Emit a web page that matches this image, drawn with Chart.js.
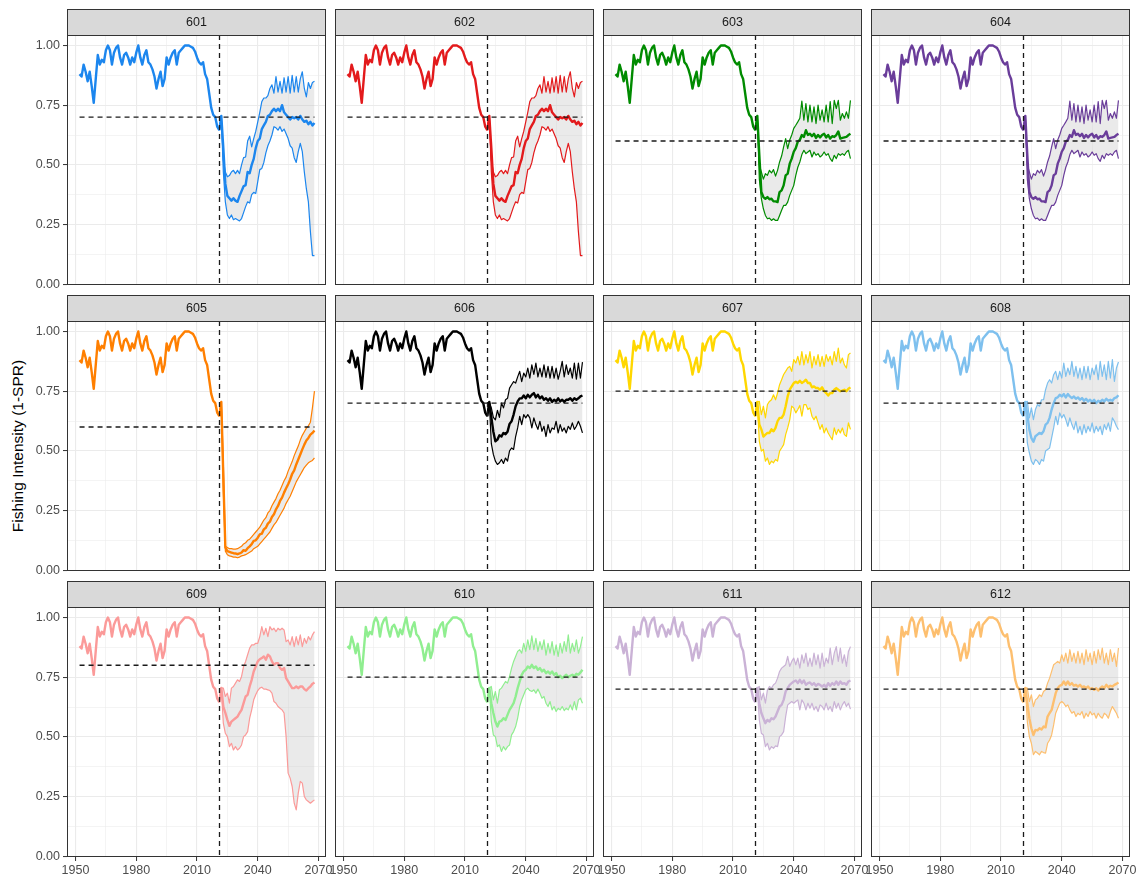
<!DOCTYPE html>
<html>
<head>
<meta charset="utf-8">
<title>Fishing Intensity (1-SPR)</title>
<script src="https://cdn.jsdelivr.net/npm/chart.js@4.4.1/dist/chart.umd.min.js"></script>
<style>
  html, body { margin: 0; padding: 0; background: #ffffff; }
  #wrap { position: relative; width: 1141px; height: 878px; overflow: hidden;
          font-family: "Liberation Sans", Arial, Helvetica, sans-serif; }
  .cell { position: absolute; }
  #ytitle { position: absolute; left: 18px; top: 446px; transform: translate(-50%, -50%) rotate(-90deg);
            font-size: 15.5px; color: #000; white-space: nowrap; }
</style>
</head>
<body>
<div id="wrap"><div id="ytitle">Fishing Intensity (1-SPR)</div></div>
<script>
// ---- data -------------------------------------------------------------
const FIRST_HIST_YEAR = 1952;   // historical series starts here
const FIRST_PROJ_YEAR = 2021;   // projection series start here
const CUTOFF_YEAR = 2021;       // vertical dashed marker
const TARGET_START = 1952;      // target line span
const TARGET_END = 2068;

const historical = [
  0.88, 0.87, 0.92, 0.89, 0.85, 0.89, 0.83, 0.76, 0.86, 0.96,
  0.92, 0.94, 0.93, 0.98, 1.00, 0.98, 0.92, 0.97, 0.99, 1.00,
  0.95, 0.92, 0.96, 0.97, 0.95, 0.92, 0.95, 0.93, 0.97, 1.00,
  0.95, 0.92, 0.96, 0.98, 0.93, 0.92, 0.90, 0.87, 0.82, 0.86,
  0.89, 0.83, 0.86, 0.95, 0.92, 0.95, 0.97, 0.98, 0.92, 0.97,
  0.98, 0.99, 1.00, 1.00, 1.00, 0.995, 0.99, 0.975, 0.95, 0.93,
  0.92, 0.93, 0.88, 0.86, 0.80, 0.74, 0.71, 0.70, 0.66, 0.645
];

// projections 2021-2068: median, lower and upper bounds
const med601 = [0.645, 0.705,
  0.57, 0.42, 0.37, 0.36, 0.35, 0.36, 0.35, 0.345, 0.37,
  0.39, 0.41, 0.415, 0.47, 0.465, 0.50, 0.525, 0.57, 0.60, 0.61,
  0.65, 0.665, 0.68, 0.705, 0.71, 0.725, 0.735, 0.725, 0.735, 0.725,
  0.75, 0.72, 0.71, 0.70, 0.69, 0.70, 0.695, 0.70, 0.69, 0.705,
  0.69, 0.68, 0.685, 0.67, 0.68, 0.665, 0.675];
const hi601 = [0.645, 0.705,
  0.52, 0.47, 0.45, 0.455, 0.47, 0.477, 0.463, 0.477, 0.463, 0.50,
  0.53, 0.533, 0.60, 0.62, 0.575, 0.61, 0.64, 0.68, 0.72, 0.765,
  0.78, 0.78, 0.79, 0.82, 0.835, 0.80, 0.87, 0.805, 0.85, 0.80,
  0.865, 0.805, 0.87, 0.80, 0.875, 0.805, 0.87, 0.805, 0.86, 0.89,
  0.82, 0.785, 0.845, 0.82, 0.845, 0.85];
const lo601 = [0.645, 0.705,
  0.47, 0.345, 0.29, 0.275, 0.29, 0.27, 0.275, 0.27, 0.265, 0.275,
  0.30, 0.325, 0.345, 0.34, 0.375, 0.385, 0.38, 0.43, 0.48, 0.485,
  0.51, 0.55, 0.58, 0.60, 0.625, 0.66, 0.655, 0.645, 0.66, 0.64,
  0.65, 0.63, 0.61, 0.58, 0.57, 0.53, 0.51, 0.555, 0.59, 0.555,
  0.47, 0.40, 0.345, 0.22, 0.12, 0.12];

const med603 = [0.645, 0.705,
  0.54, 0.386, 0.365, 0.358, 0.365, 0.356, 0.358, 0.347, 0.347, 0.344,
  0.386, 0.393, 0.414, 0.456, 0.463, 0.505, 0.526, 0.555, 0.57, 0.597,
  0.604, 0.625, 0.617, 0.645, 0.625, 0.63, 0.62, 0.63, 0.613, 0.625,
  0.615, 0.625, 0.63, 0.615, 0.625, 0.61, 0.62, 0.617, 0.625, 0.64,
  0.61, 0.613, 0.615, 0.617, 0.625, 0.63];
const hi603 = [0.645, 0.705,
  0.50, 0.47, 0.44, 0.463, 0.456, 0.477, 0.466, 0.48, 0.453, 0.477,
  0.512, 0.537, 0.575, 0.61, 0.568, 0.604, 0.625, 0.653, 0.666, 0.68,
  0.695, 0.767, 0.687, 0.757, 0.68, 0.75, 0.68, 0.743, 0.673, 0.75,
  0.687, 0.73, 0.68, 0.75, 0.68, 0.765, 0.673, 0.77, 0.736, 0.77,
  0.687, 0.715, 0.695, 0.722, 0.695, 0.77];
const lo603 = [0.645, 0.705,
  0.44, 0.358, 0.316, 0.288, 0.274, 0.277, 0.267, 0.274, 0.267, 0.267,
  0.288, 0.31, 0.33, 0.33, 0.344, 0.372, 0.393, 0.414, 0.456, 0.49,
  0.512, 0.543, 0.561, 0.547, 0.554, 0.561, 0.533, 0.554, 0.54, 0.547,
  0.533, 0.54, 0.554, 0.54, 0.547, 0.526, 0.515, 0.54, 0.526, 0.547,
  0.54, 0.547, 0.54, 0.554, 0.561, 0.526];

const med605 = [0.645, 0.705, 0.39,
  0.095, 0.08, 0.077, 0.074, 0.071, 0.07, 0.067, 0.07, 0.074, 0.084,
  0.081, 0.092, 0.10, 0.109, 0.123, 0.125, 0.136, 0.15, 0.153, 0.171,
  0.178, 0.195, 0.203, 0.223, 0.234, 0.255, 0.269, 0.29, 0.304, 0.325,
  0.343, 0.36, 0.38, 0.404, 0.418, 0.443, 0.464, 0.485, 0.506, 0.526,
  0.543, 0.554, 0.568, 0.575, 0.585];
const hi605 = [0.645, 0.705, 0.45,
  0.10, 0.095, 0.09, 0.09, 0.088, 0.088, 0.09, 0.095, 0.10, 0.11,
  0.115, 0.125, 0.13, 0.14, 0.15, 0.16, 0.17, 0.18, 0.195, 0.21,
  0.22, 0.24, 0.25, 0.27, 0.285, 0.30, 0.32, 0.335, 0.355, 0.375,
  0.39, 0.415, 0.435, 0.455, 0.48, 0.50, 0.52, 0.545, 0.565, 0.58,
  0.595, 0.605, 0.62, 0.68, 0.75];
const lo605 = [0.645, 0.705, 0.33,
  0.08, 0.065, 0.06, 0.058, 0.055, 0.055, 0.052, 0.055, 0.06, 0.062,
  0.065, 0.07, 0.075, 0.08, 0.09, 0.095, 0.10, 0.11, 0.12, 0.13,
  0.14, 0.15, 0.16, 0.175, 0.19, 0.20, 0.215, 0.23, 0.245, 0.26,
  0.28, 0.295, 0.31, 0.33, 0.35, 0.37, 0.385, 0.40, 0.415, 0.43,
  0.44, 0.45, 0.455, 0.46, 0.47];

const med606 = [0.645, 0.705,
  0.64, 0.58, 0.54, 0.547, 0.565, 0.56, 0.575, 0.57, 0.58, 0.613,
  0.624, 0.652, 0.687, 0.707, 0.72, 0.72, 0.732, 0.72, 0.735, 0.724,
  0.735, 0.742, 0.724, 0.735, 0.72, 0.728, 0.714, 0.72, 0.71, 0.72,
  0.705, 0.714, 0.707, 0.72, 0.707, 0.714, 0.705, 0.714, 0.714, 0.72,
  0.71, 0.72, 0.714, 0.72, 0.728, 0.732];
const hi606 = [0.645, 0.705,
  0.68, 0.64, 0.63, 0.67, 0.64, 0.70, 0.68, 0.714, 0.72, 0.763,
  0.777, 0.79, 0.784, 0.81, 0.833, 0.79, 0.826, 0.81, 0.847, 0.805,
  0.86, 0.82, 0.868, 0.81, 0.847, 0.81, 0.86, 0.808, 0.854, 0.805,
  0.854, 0.805, 0.847, 0.80, 0.833, 0.875, 0.81, 0.86, 0.82, 0.847,
  0.805, 0.868, 0.80, 0.868, 0.805, 0.872];
const lo606 = [0.645, 0.705,
  0.53, 0.485, 0.457, 0.443, 0.45, 0.464, 0.447, 0.47, 0.457, 0.50,
  0.512, 0.506, 0.56, 0.596, 0.645, 0.61, 0.652, 0.638, 0.652, 0.638,
  0.596, 0.638, 0.61, 0.59, 0.624, 0.582, 0.603, 0.56, 0.61, 0.575,
  0.596, 0.59, 0.624, 0.575, 0.61, 0.582, 0.596, 0.575, 0.603, 0.59,
  0.617, 0.59, 0.603, 0.624, 0.603, 0.575];

const med607 = [0.645, 0.705,
  0.61, 0.59, 0.56, 0.568, 0.575, 0.575, 0.59, 0.582, 0.596, 0.624,
  0.638, 0.638, 0.652, 0.687, 0.728, 0.756, 0.77, 0.784, 0.79, 0.784,
  0.794, 0.784, 0.79, 0.798, 0.784, 0.784, 0.766, 0.77, 0.763, 0.763,
  0.756, 0.766, 0.75, 0.742, 0.732, 0.742, 0.742, 0.756, 0.763, 0.756,
  0.75, 0.752, 0.756, 0.75, 0.76, 0.766];
const hi607 = [0.645, 0.705,
  0.707, 0.652, 0.687, 0.638, 0.694, 0.707, 0.714, 0.735, 0.714, 0.742,
  0.777, 0.798, 0.82, 0.833, 0.847, 0.854, 0.833, 0.882, 0.868, 0.896,
  0.86, 0.916, 0.86, 0.903, 0.868, 0.916, 0.847, 0.896, 0.86, 0.903,
  0.854, 0.896, 0.854, 0.903, 0.875, 0.896, 0.86, 0.916, 0.875, 0.93,
  0.868, 0.889, 0.86, 0.847, 0.903, 0.91];
const lo607 = [0.645, 0.705,
  0.54, 0.499, 0.506, 0.457, 0.47, 0.443, 0.457, 0.45, 0.464, 0.457,
  0.499, 0.512, 0.526, 0.568, 0.596, 0.63, 0.687, 0.68, 0.659, 0.673,
  0.69, 0.645, 0.694, 0.694, 0.673, 0.68, 0.645, 0.63, 0.645, 0.617,
  0.59, 0.61, 0.575, 0.596, 0.575, 0.56, 0.547, 0.596, 0.568, 0.59,
  0.575, 0.596, 0.568, 0.561, 0.617, 0.59];

const med608 = [0.645, 0.705,
  0.652, 0.589, 0.554, 0.538, 0.561, 0.568, 0.575, 0.571, 0.582, 0.61,
  0.617, 0.638, 0.673, 0.70, 0.721, 0.724, 0.735, 0.728, 0.738, 0.724,
  0.738, 0.728, 0.721, 0.728, 0.718, 0.724, 0.714, 0.721, 0.71, 0.718,
  0.707, 0.714, 0.705, 0.714, 0.70, 0.71, 0.705, 0.714, 0.707, 0.718,
  0.71, 0.714, 0.71, 0.721, 0.724, 0.733];
const hi608 = [0.645, 0.705,
  0.707, 0.638, 0.68, 0.631, 0.673, 0.694, 0.687, 0.714, 0.714, 0.756,
  0.784, 0.798, 0.784, 0.819, 0.833, 0.798, 0.833, 0.805, 0.868, 0.812,
  0.847, 0.819, 0.875, 0.812, 0.854, 0.805, 0.847, 0.798, 0.854, 0.805,
  0.854, 0.798, 0.847, 0.819, 0.86, 0.798, 0.875, 0.812, 0.86, 0.798,
  0.875, 0.805, 0.882, 0.791, 0.847, 0.872];
const lo608 = [0.645, 0.705,
  0.533, 0.492, 0.457, 0.443, 0.464, 0.457, 0.443, 0.464, 0.457, 0.499,
  0.506, 0.512, 0.554, 0.596, 0.645, 0.61, 0.659, 0.638, 0.652, 0.631,
  0.603, 0.638, 0.61, 0.589, 0.624, 0.575, 0.603, 0.568, 0.61, 0.575,
  0.603, 0.582, 0.617, 0.575, 0.603, 0.582, 0.603, 0.568, 0.61, 0.589,
  0.617, 0.582, 0.638, 0.624, 0.603, 0.589];

const med609 = [0.645, 0.705,
  0.627, 0.60, 0.571, 0.546, 0.564, 0.571, 0.578, 0.585, 0.60, 0.613,
  0.641, 0.669, 0.676, 0.711, 0.739, 0.774, 0.795, 0.816, 0.825, 0.83,
  0.837, 0.823, 0.844, 0.837, 0.816, 0.802, 0.809, 0.809, 0.788, 0.781,
  0.788, 0.746, 0.732, 0.718, 0.704, 0.704, 0.711, 0.704, 0.711, 0.711,
  0.70, 0.694, 0.704, 0.711, 0.722, 0.728];
const hi609 = [0.645, 0.705,
  0.704, 0.669, 0.683, 0.641, 0.704, 0.711, 0.725, 0.739, 0.732, 0.753,
  0.795, 0.816, 0.844, 0.872, 0.885, 0.885, 0.892, 0.892, 0.92, 0.962,
  0.927, 0.955, 0.92, 0.962, 0.948, 0.955, 0.941, 0.955, 0.948, 0.955,
  0.948, 0.899, 0.906, 0.885, 0.92, 0.878, 0.92, 0.885, 0.927, 0.878,
  0.913, 0.892, 0.92, 0.906, 0.927, 0.941];
const lo609 = [0.645, 0.705,
  0.557, 0.515, 0.501, 0.459, 0.473, 0.445, 0.459, 0.445, 0.452, 0.466,
  0.501, 0.508, 0.522, 0.578, 0.613, 0.655, 0.676, 0.694, 0.704, 0.708,
  0.70, 0.70, 0.697, 0.694, 0.683, 0.648, 0.641, 0.627, 0.62, 0.613,
  0.60, 0.501, 0.348, 0.327, 0.292, 0.222, 0.194, 0.264, 0.313, 0.306,
  0.25, 0.236, 0.229, 0.222, 0.229, 0.236];

const med610 = [0.645, 0.705,
  0.641, 0.60, 0.564, 0.543, 0.564, 0.567, 0.578, 0.571, 0.592, 0.613,
  0.627, 0.641, 0.669, 0.704, 0.732, 0.76, 0.774, 0.781, 0.795, 0.788,
  0.802, 0.788, 0.795, 0.781, 0.788, 0.774, 0.781, 0.767, 0.774, 0.764,
  0.774, 0.76, 0.767, 0.75, 0.756, 0.746, 0.753, 0.76, 0.75, 0.756,
  0.76, 0.753, 0.764, 0.76, 0.77, 0.781];
const hi610 = [0.645, 0.705,
  0.711, 0.655, 0.69, 0.641, 0.697, 0.704, 0.718, 0.732, 0.725, 0.753,
  0.788, 0.816, 0.837, 0.858, 0.865, 0.851, 0.892, 0.858, 0.906, 0.865,
  0.923, 0.865, 0.913, 0.858, 0.899, 0.865, 0.906, 0.842, 0.892, 0.851,
  0.899, 0.842, 0.885, 0.837, 0.892, 0.851, 0.899, 0.858, 0.927, 0.851,
  0.892, 0.858, 0.906, 0.851, 0.878, 0.92];
const lo610 = [0.645, 0.705,
  0.564, 0.508, 0.501, 0.459, 0.466, 0.439, 0.459, 0.445, 0.459, 0.466,
  0.508, 0.522, 0.543, 0.578, 0.627, 0.655, 0.676, 0.697, 0.704, 0.694,
  0.69, 0.697, 0.683, 0.70, 0.683, 0.662, 0.669, 0.641, 0.627, 0.648,
  0.613, 0.627, 0.606, 0.62, 0.613, 0.627, 0.61, 0.62, 0.613, 0.634,
  0.613, 0.648, 0.613, 0.655, 0.662, 0.641];

const med611 = [0.645, 0.705,
  0.641, 0.60, 0.578, 0.557, 0.571, 0.564, 0.578, 0.574, 0.585, 0.606,
  0.627, 0.634, 0.655, 0.69, 0.704, 0.718, 0.725, 0.732, 0.736, 0.725,
  0.739, 0.725, 0.736, 0.718, 0.725, 0.728, 0.718, 0.725, 0.714, 0.722,
  0.718, 0.711, 0.718, 0.708, 0.725, 0.714, 0.725, 0.718, 0.732, 0.718,
  0.732, 0.722, 0.725, 0.718, 0.732, 0.736];
const hi611 = [0.645, 0.705,
  0.711, 0.655, 0.683, 0.641, 0.697, 0.711, 0.704, 0.718, 0.725, 0.746,
  0.774, 0.788, 0.795, 0.802, 0.837, 0.795, 0.816, 0.83, 0.802, 0.83,
  0.788, 0.844, 0.809, 0.851, 0.795, 0.83, 0.795, 0.851, 0.802, 0.844,
  0.788, 0.851, 0.795, 0.83, 0.809, 0.872, 0.802, 0.851, 0.878, 0.816,
  0.872, 0.809, 0.844, 0.795, 0.858, 0.878];
const lo611 = [0.645, 0.705,
  0.571, 0.515, 0.508, 0.459, 0.473, 0.445, 0.459, 0.452, 0.462, 0.459,
  0.501, 0.508, 0.522, 0.585, 0.634, 0.641, 0.648, 0.641, 0.648, 0.655,
  0.613, 0.655, 0.641, 0.613, 0.641, 0.62, 0.641, 0.613, 0.627, 0.606,
  0.634, 0.627, 0.613, 0.641, 0.613, 0.627, 0.606, 0.648, 0.62, 0.641,
  0.613, 0.634, 0.648, 0.627, 0.641, 0.616];

const med612 = [0.645, 0.705,
  0.641, 0.578, 0.536, 0.508, 0.529, 0.527, 0.536, 0.531, 0.543, 0.54,
  0.585, 0.60, 0.613, 0.648, 0.683, 0.704, 0.714, 0.718, 0.732, 0.718,
  0.732, 0.718, 0.725, 0.714, 0.718, 0.711, 0.718, 0.708, 0.711, 0.704,
  0.711, 0.70, 0.704, 0.697, 0.704, 0.694, 0.704, 0.711, 0.704, 0.718,
  0.708, 0.714, 0.711, 0.718, 0.722, 0.728];
const hi612 = [0.645, 0.705,
  0.704, 0.648, 0.676, 0.627, 0.655, 0.662, 0.676, 0.669, 0.69, 0.697,
  0.725, 0.746, 0.774, 0.802, 0.809, 0.816, 0.809, 0.844, 0.816, 0.851,
  0.809, 0.865, 0.816, 0.851, 0.809, 0.858, 0.809, 0.851, 0.802, 0.865,
  0.816, 0.851, 0.802, 0.858, 0.809, 0.865, 0.823, 0.872, 0.809, 0.851,
  0.802, 0.865, 0.816, 0.851, 0.795, 0.872];
const lo612 = [0.645, 0.705,
  0.564, 0.501, 0.473, 0.425, 0.439, 0.432, 0.425, 0.439, 0.434, 0.432,
  0.473, 0.487, 0.508, 0.55, 0.599, 0.62, 0.641, 0.648, 0.641, 0.627,
  0.634, 0.613, 0.599, 0.606, 0.585, 0.599, 0.592, 0.606, 0.578, 0.599,
  0.585, 0.606, 0.592, 0.599, 0.578, 0.599, 0.585, 0.578, 0.599, 0.592,
  0.578, 0.606, 0.627, 0.613, 0.599, 0.578];

const panelIds = ['601', '602', '603', '604', '605', '606', '607', '608', '609', '610', '611', '612'];
const panelTargets = [0.70, 0.70, 0.60, 0.60, 0.60, 0.70, 0.75, 0.70, 0.80, 0.75, 0.70, 0.70];
const panelMedian = [med601, med601, med603, med603, med605, med606, med607, med608, med609, med610, med611, med612];
const panelLower  = [lo601, lo601, lo603, lo603, lo605, lo606, lo607, lo608, lo609, lo610, lo611, lo612];
const panelUpper  = [hi601, hi601, hi603, hi603, hi605, hi606, hi607, hi608, hi609, hi610, hi611, hi612];
const panelColors = ['#1C86EE', '#E31A1C', '#008B00', '#6A3D9A', '#FF7F00', '#000000',
                     '#FFD700', '#7EC0EE', '#FB9A99', '#90EE90', '#CAB2D6', '#FDBF6F'];

const xBreaks = [1950, 1965, 1980, 1995, 2010, 2025, 2040, 2055, 2070];
const xLabelled = [1950, 1980, 2010, 2040, 2070];
const yBreaks = [0, 0.125, 0.25, 0.375, 0.5, 0.625, 0.75, 0.875, 1];
const yLabelled = [0, 0.25, 0.5, 0.75, 1];

// ---- layout -----------------------------------------------------------
const NCOL = 4;
const COL_LEFT = [67, 335, 603, 871];
const ROW_TOP = [35, 321, 607];
const PW = 259, PH = 250;          // panel size
const STRIP = 26;                  // strip height
const ML = 62, MR = 20, MB = 24;   // room for axes around a panel
const X_MIN = 1945.8, X_MAX = 2073.7;
const Y_MIN = -0.0034, Y_MAX = 1.044;

const FONT = '"Liberation Sans", Arial, Helvetica, sans-serif';
const GRID = '#EBEBEB';
const INK = '#333333';
const RIBBON = 'rgba(190,190,190,0.32)';

const series = (start, vals) => vals.map((v, i) => ({ x: start + i, y: v }));
const isMajorX = v => xLabelled.includes(v);
const isMajorY = v => yLabelled.some(b => Math.abs(b - v) < 1e-9);

const facetDecor = {
  id: 'facetDecor',
  afterDatasetsDraw(chart) {
    const { ctx, chartArea: a, scales } = chart;
    const px = Math.round(scales.x.getPixelForValue(CUTOFF_YEAR)) + 0.5;
    ctx.save();
    ctx.beginPath();
    ctx.setLineDash([5, 4]);
    ctx.lineWidth = 1.3;
    ctx.strokeStyle = '#1a1a1a';
    ctx.moveTo(px, a.top);
    ctx.lineTo(px, a.bottom);
    ctx.stroke();
    ctx.restore();
  },
  afterDraw(chart, args, opts) {
    const { ctx, chartArea: a } = chart;
    ctx.save();
    // strip
    ctx.fillStyle = '#D9D9D9';
    ctx.fillRect(a.left, a.top - STRIP, a.right - a.left, STRIP);
    ctx.strokeStyle = INK;
    ctx.lineWidth = 1;
    ctx.strokeRect(a.left + 0.5, a.top - STRIP + 0.5, a.right - a.left - 1, STRIP);
    ctx.fillStyle = '#1A1A1A';
    ctx.font = '12.5px ' + FONT;
    ctx.textAlign = 'center';
    ctx.textBaseline = 'middle';
    ctx.fillText(opts.label, (a.left + a.right) / 2, a.top - STRIP / 2 + 0.5);
    // panel border
    ctx.strokeRect(a.left + 0.5, a.top + 0.5, a.right - a.left - 1, a.bottom - a.top - 1);
    ctx.restore();
  }
};

const wrap = document.getElementById('wrap');

panelIds.forEach((id, k) => {
  const col = k % NCOL, row = Math.floor(k / NCOL);
  const firstCol = col === 0, lastRow = row === 2;
  const color = panelColors[k];

  const cell = document.createElement('div');
  cell.className = 'cell';
  const W = ML + PW + MR, H = STRIP + PH + MB;
  cell.style.left = (COL_LEFT[col] - ML) + 'px';
  cell.style.top = (ROW_TOP[row] - STRIP) + 'px';
  cell.style.width = W + 'px';
  cell.style.height = H + 'px';
  const canvas = document.createElement('canvas');
  canvas.width = W; canvas.height = H;
  canvas.style.width = W + 'px'; canvas.style.height = H + 'px';
  cell.appendChild(canvas);
  wrap.appendChild(cell);

  const thick = 2.4, thin = 1.2;
  const lineBase = { pointRadius: 0, tension: 0, borderJoinStyle: 'round', borderCapStyle: 'butt', fill: false };

  new Chart(canvas, {
    type: 'line',
    data: {
      datasets: [
        { ...lineBase, label: 'target', data: [{ x: TARGET_START, y: panelTargets[k] }, { x: TARGET_END, y: panelTargets[k] }],
          borderColor: '#1a1a1a', borderWidth: 1.3, borderDash: [5, 4], order: 0 },
        { ...lineBase, label: 'lower', data: series(FIRST_PROJ_YEAR, panelLower[k]), borderColor: color, borderWidth: thin, order: 3 },
        { ...lineBase, label: 'upper', data: series(FIRST_PROJ_YEAR, panelUpper[k]), borderColor: color, borderWidth: thin, order: 3,
          fill: { target: 1 }, backgroundColor: RIBBON },
        { ...lineBase, label: 'median', data: series(FIRST_PROJ_YEAR, panelMedian[k]), borderColor: color, borderWidth: thick, order: 2 },
        { ...lineBase, label: 'historical', data: series(FIRST_HIST_YEAR, historical), borderColor: color, borderWidth: thick, order: 2 }
      ]
    },
    options: {
      responsive: false,
      animation: false,
      events: [],
      devicePixelRatio: 1,
      layout: { padding: { top: STRIP, left: 0, right: MR, bottom: 0 } },
      plugins: {
        legend: { display: false },
        tooltip: { enabled: false },
        filler: { drawTime: 'beforeDatasetsDraw' },
        facetDecor: { label: id }
      },
      scales: {
        x: {
          type: 'linear', min: X_MIN, max: X_MAX,
          border: { display: false },
          afterBuildTicks: s => { s.ticks = xBreaks.map(v => ({ value: v })); },
          afterFit: s => { s.height = MB; },
          grid: {
            color: GRID,
            lineWidth: c => (c.tick && isMajorX(c.tick.value)) ? 1.1 : 0.55,
            drawTicks: lastRow, tickLength: 4, tickWidth: 1,
            tickColor: c => (c.tick && isMajorX(c.tick.value)) ? INK : 'rgba(0,0,0,0)'
          },
          ticks: {
            display: lastRow, autoSkip: false, maxRotation: 0, padding: 2,
            color: '#4D4D4D', font: { family: FONT, size: 12.5 },
            callback: v => isMajorX(v) ? String(v) : ''
          }
        },
        y: {
          type: 'linear', min: Y_MIN, max: Y_MAX,
          border: { display: false },
          afterBuildTicks: s => { s.ticks = yBreaks.map(v => ({ value: v })); },
          afterFit: s => { s.width = ML; },
          grid: {
            color: GRID,
            lineWidth: c => (c.tick && isMajorY(c.tick.value)) ? 1.1 : 0.55,
            drawTicks: firstCol, tickLength: 4, tickWidth: 1,
            tickColor: c => (c.tick && isMajorY(c.tick.value)) ? INK : 'rgba(0,0,0,0)'
          },
          ticks: {
            display: firstCol, autoSkip: false, padding: 3,
            color: '#4D4D4D', font: { family: FONT, size: 12.5 },
            callback: v => isMajorY(v) ? v.toFixed(2) : ''
          }
        }
      }
    },
    plugins: [facetDecor]
  });
});
</script>
</body>
</html>
